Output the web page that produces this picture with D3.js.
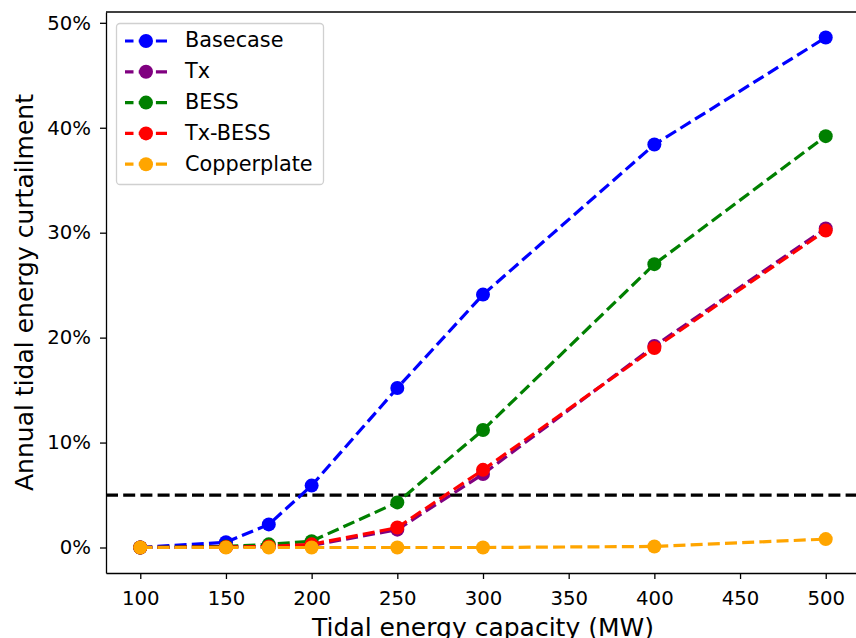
<!DOCTYPE html>
<html>
<head>
<meta charset="utf-8">
<script src="https://cdn.jsdelivr.net/npm/d3@7"></script>
<style>
  body { margin: 0; background: #fff; }
  svg { display: block; font-family: "DejaVu Sans", sans-serif; }
</style>
</head>
<body>
<div id="chart"></div>
<script>
const width = 856;
const height = 638;

// data
const capacity = [100, 150, 175, 200, 250, 300, 400, 500];
const basecase = [0.000, 0.005, 0.022, 0.059, 0.152, 0.241, 0.384, 0.486];
const tx = [0.000, 0.0005, 0.001, 0.002, 0.017, 0.070, 0.192, 0.304];
const bess = [0.000, 0.001, 0.003, 0.006, 0.043, 0.112, 0.270, 0.392];
const txBess = [0.000, 0.0005, 0.001, 0.003, 0.019, 0.074, 0.190, 0.302];
const copperplate = [0.000, 0.000, 0.000, 0.000, 0.000, 0.000, 0.001, 0.008];
const threshold = 0.05;

const seriesNames = ['Basecase', 'Tx', 'BESS', 'Tx-BESS', 'Copperplate'];
const seriesColors = ['blue', 'purple', 'green', 'red', 'orange'];
const seriesValues = [basecase, tx, bess, txBess, copperplate];

const xTicks = [100, 150, 200, 250, 300, 350, 400, 450, 500];
const yTicks = [0, 0.1, 0.2, 0.3, 0.4, 0.5];

const margin = { left: 106, top: 12, right: -4, bottom: 65 };
const lineWidth = 3.2;
const dash = '12 5.2';

const svg = d3.select('#chart')
  .append('svg')
    .attr('width', width)
    .attr('height', height);

const x = d3.scaleLinear().domain([80, 520]).range([margin.left, width - margin.right]);
const y = d3.scaleLinear().domain([-0.0243, 0.5103]).range([height - margin.bottom, margin.top]);

// axes
const axisBottom = d3.axisBottom(x).tickValues(xTicks).tickSize(6).tickPadding(12.5).tickSizeOuter(0);
const axisLeft = d3.axisLeft(y).tickValues(yTicks).tickSize(6).tickPadding(9).tickSizeOuter(0)
  .tickFormat(d => Math.round(d * 100) + '%');

const gx = svg.append('g')
  .attr('transform', `translate(0, ${height - margin.bottom})`)
  .call(axisBottom);
const gy = svg.append('g')
  .attr('transform', `translate(${margin.left}, 0)`)
  .call(axisLeft);

[gx, gy].forEach(g => {
  g.selectAll('text').attr('font-size', 19.7).attr('fill', '#000')
    .attr('font-family', '"DejaVu Sans", sans-serif');
  g.selectAll('line').attr('stroke', '#000').attr('stroke-width', 1.3);
  g.select('.domain').attr('stroke', '#000').attr('stroke-width', 1.3);
});

// top spine
svg.append('line')
  .attr('x1', margin.left).attr('x2', width)
  .attr('y1', margin.top).attr('y2', margin.top)
  .attr('stroke', '#000').attr('stroke-width', 1.3);

// labels
svg.append('text')
  .attr('x', (x.range()[0] + x.range()[1]) / 2)
  .attr('y', 636)
  .attr('text-anchor', 'middle')
  .attr('font-size', 25)
  .text('Tidal energy capacity (MW)');

svg.append('text')
  .attr('transform', `translate(33, ${(y.range()[0] + y.range()[1]) / 2}) rotate(-90)`)
  .attr('text-anchor', 'middle')
  .attr('font-size', 25)
  .text('Annual tidal energy curtailment');

const plot = svg.append('g');

// threshold line
plot.append('line')
  .attr('x1', margin.left).attr('x2', width)
  .attr('y1', y(threshold)).attr('y2', y(threshold))
  .attr('stroke', '#000')
  .attr('stroke-width', lineWidth)
  .attr('stroke-dasharray', dash);

const line = d3.line()
  .x(d => x(d[0]))
  .y(d => y(d[1]));

seriesValues.forEach((vals, i) => {
  const pts = capacity.map((c, j) => [c, vals[j]]);
  const g = plot.append('g');
  g.append('path')
    .attr('d', line(pts))
    .attr('fill', 'none')
    .attr('stroke', seriesColors[i])
    .attr('stroke-width', lineWidth)
    .attr('stroke-dasharray', dash);
  g.selectAll('circle')
    .data(pts)
    .join('circle')
      .attr('cx', d => x(d[0]))
      .attr('cy', d => y(d[1]))
      .attr('r', 7)
      .attr('fill', seriesColors[i]);
});

// legend
const legend = svg.append('g');
legend.append('rect')
  .attr('x', 116.5).attr('y', 23.5)
  .attr('width', 207).attr('height', 161)
  .attr('rx', 3.5)
  .attr('fill', 'rgba(255,255,255,0.8)')
  .attr('stroke', '#d0d0d0')
  .attr('stroke-width', 1.3);

seriesNames.forEach((name, i) => {
  const ly = 41 + i * 30.8;
  const item = legend.append('g');
  item.append('line')
    .attr('x1', 125).attr('x2', 167)
    .attr('y1', ly).attr('y2', ly)
    .attr('stroke', seriesColors[i])
    .attr('stroke-width', lineWidth)
    .attr('stroke-dasharray', dash)
    .attr('stroke-dashoffset', 3.5);
  item.append('circle')
    .attr('cx', 146).attr('cy', ly).attr('r', 7)
    .attr('fill', seriesColors[i]);
  item.append('text')
    .attr('x', 185).attr('y', ly + 6.3)
    .attr('font-size', 20.8)
    .text(name);
});
</script>
</body>
</html>
